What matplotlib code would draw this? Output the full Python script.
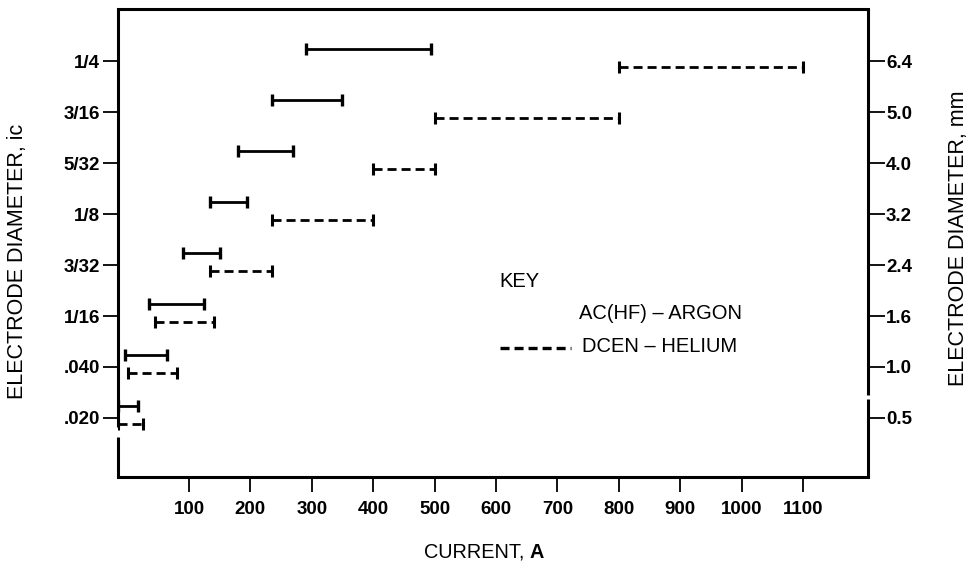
import matplotlib
matplotlib.use("Agg")
import matplotlib.pyplot as plt
import numpy as np

plt.rcParams['font.family'] = ['Liberation Sans', 'DejaVu Sans']
plt.rcParams['lines.scale_dashes'] = False

# ---- data ----
sizes_in = [".020", ".040", "1/16", "3/32", "1/8", "5/32", "3/16", "1/4"]
sizes_mm = ["0.5", "1.0", "1.6", "2.4", "3.2", "4.0", "5.0", "6.4"]
ac_lo = [-15, -5, 35, 90, 135, 180, 235, 290]
ac_hi = [17, 65, 125, 150, 195, 270, 350, 495]
dc_lo = [-15, 0, 45, 135, 235, 400, 500, 800]
dc_hi = [25, 80, 140, 235, 400, 500, 800, 1100]
x_ticks = [100, 200, 300, 400, 500, 600, 700, 800, 900, 1000, 1100]

W, H = 971, 568
fig = plt.figure(figsize=(W / 100, H / 100), dpi=100)
ax = fig.add_axes([118 / W, 1 - 477 / H, (868 - 118) / W, (477 - 9) / H])

pos = np.arange(len(sizes_in))
ac_off, dc_off = 0.24, -0.12
dash = (0, (6.5, 3.6))
lw = 2.0
for i in pos:
    y = i + ac_off
    ax.hlines(y, ac_lo[i], ac_hi[i], color='black', lw=lw)
    ax.plot([ac_lo[i], ac_hi[i]], [y, y], ls='none', marker='|', ms=9, mew=2.4, color='black')
    y = i + dc_off
    ax.hlines(y, dc_lo[i], dc_hi[i], color='black', lw=lw, linestyles=[dash])
    ax.plot([dc_lo[i], dc_hi[i]], [y, y], ls='none', marker='|', ms=8, mew=2.2, color='black')

ax.set_xlim(-15.6, 1206)
ax.set_ylim(-1.157, 8.02)

# frame with gaps
for s in ['left', 'right']:
    ax.spines[s].set_visible(False)
for s in ['top', 'bottom']:
    ax.spines[s].set_linewidth(2.2)
xl, xr = ax.get_xlim()
yb, yt = ax.get_ylim()
frame_kw = dict(color='black', lw=2.2, clip_on=False, solid_capstyle='butt')
ax.plot([xl, xl], [yt, -0.18], **frame_kw)
ax.plot([xl, xl], [-0.37, yb], **frame_kw)
ax.plot([xr, xr], [yt, 0.45], **frame_kw)
ax.plot([xr, xr], [0.37, yb], **frame_kw)

ax.set_xticks(x_ticks)
ax.set_xticklabels([str(v) for v in x_ticks], fontsize=13.5, fontweight='bold')
ax.tick_params(axis='x', direction='out', length=11, width=1.3, pad=6)
ax.set_yticks(pos)
ax.set_yticklabels(sizes_in, fontsize=13.5, fontweight='bold')
ax.tick_params(axis='y', direction='out', length=11, width=1.3, pad=2)

ax2 = ax.twinx()
ax2.set_ylim(ax.get_ylim())
for s in ax2.spines.values():
    s.set_visible(False)
ax2.set_yticks(pos)
ax2.set_yticklabels(sizes_mm, fontsize=13.5, fontweight='bold')
ax2.tick_params(axis='y', direction='out', length=12, width=1.3, pad=1)

# legend / key
ax.text(606, 2.67, "KEY", fontsize=14.5, ha='left', va='center')
ax.text(735, 2.04, "AC(HF) \u2013 ARGON", fontsize=14.5, ha='left', va='center')
ax.text(740, 1.41, "DCEN \u2013 HELIUM", fontsize=14.5, ha='left', va='center')
ax.hlines(1.37, 606, 722, color='black', lw=2.4, linestyles=[dash])

# axis labels
fig.text(530 / W, 1 - 552 / H, "CURRENT, ", fontsize=14.3, ha='right', va='center')
fig.text(530 / W, 1 - 552 / H, "A", fontsize=14.3, fontweight='bold', ha='left', va='center')
fig.text(18 / W, 1 - 261 / H, "ELECTRODE DIAMETER, ic", fontsize=15.5, rotation=90,
         ha='center', va='center')
fig.text(958 / W, 1 - 238 / H, "ELECTRODE DIAMETER, mm", fontsize=15.5, rotation=90,
         ha='center', va='center')

fig.savefig("out.png", dpi=100)
